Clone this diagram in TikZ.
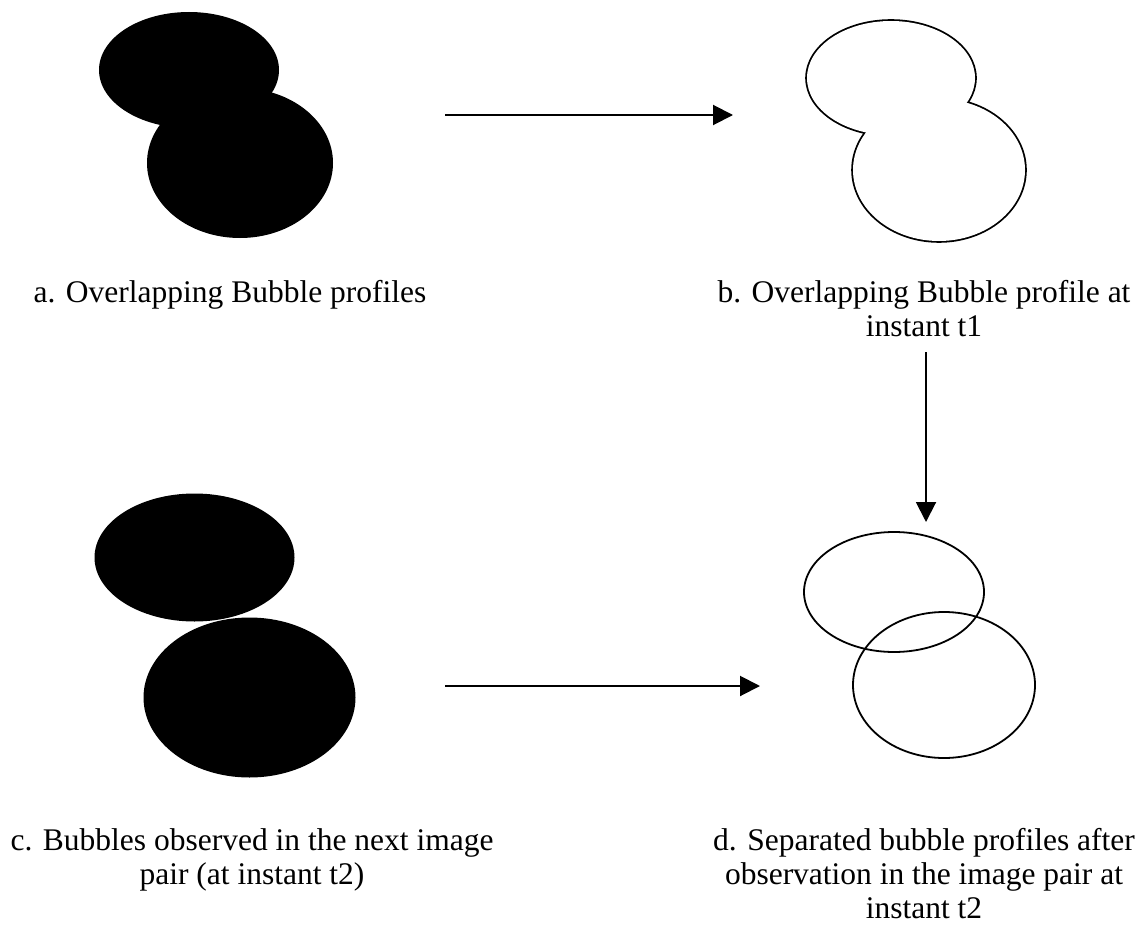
\documentclass[tikz,border=0pt]{standalone}
\usepackage{fontspec}
\setmainfont{Liberation Serif}
\usetikzlibrary{arrows.meta}
\begin{document}
\begin{tikzpicture}[x=1pt,y=-1pt,
  conn/.style={line width=2pt,-{Triangle[length=20pt,width=20pt]}},
  blob/.style={fill=black},
  rimthick/.style={draw=black,line width=3.6pt},
  rim/.style={draw=black,line width=1.8pt},
  lbl/.style={font=\fontsize{31.5}{34}\selectfont,align=center,anchor=base,inner sep=0pt}]
\useasboundingbox (0,0) rectangle (1145,928);
% a: overlapping filled bubbles
\fill[blob] (189,70) ellipse [x radius=90pt,y radius=58pt];
\fill[blob] (240,163) ellipse [x radius=93pt,y radius=75pt];
% b: outline of overlapping bubbles
\draw[rimthick] (891,78) ellipse [x radius=84pt,y radius=57pt];
\draw[rimthick] (939,170) ellipse [x radius=86pt,y radius=71pt];
\fill[white] (891,78) ellipse [x radius=84pt,y radius=57pt];
\fill[white] (939,170) ellipse [x radius=86pt,y radius=71pt];
% c: separated filled bubbles
\fill[blob] (194.5,557.5) ellipse [x radius=100pt,y radius=64pt];
\fill[blob] (249.5,697.5) ellipse [x radius=106pt,y radius=80pt];
% d: separated outlines
\draw[rim] (894,592) ellipse [x radius=90pt,y radius=60pt];
\draw[rim] (944,685) ellipse [x radius=91pt,y radius=73pt];
% connectors
\coordinate (ab1) at (445,115);
\coordinate (ab2) at (733,115);
\coordinate (bd1) at (926,352);
\coordinate (bd2) at (926,522);
\coordinate (cd1) at (445,686);
\coordinate (cd2) at (760,686);
\draw[conn] (ab1) -- (ab2);
\draw[conn] (bd1) -- (bd2);
\draw[conn] (cd1) -- (cd2);
% labels (anchor=base is the baseline of the last line)
\node[lbl] (la) at (230,302) {a. Overlapping Bubble profiles};
\node[lbl] (lb) at (924,336) {b. Overlapping Bubble profile at\\instant t1};
\node[lbl] (lc) at (252,884) {c. Bubbles observed in the next image\\pair (at instant t2)};
\node[lbl] (ld) at (924,918) {d. Separated bubble profiles after\\observation in the image pair at\\instant t2};
\end{tikzpicture}
\end{document}
